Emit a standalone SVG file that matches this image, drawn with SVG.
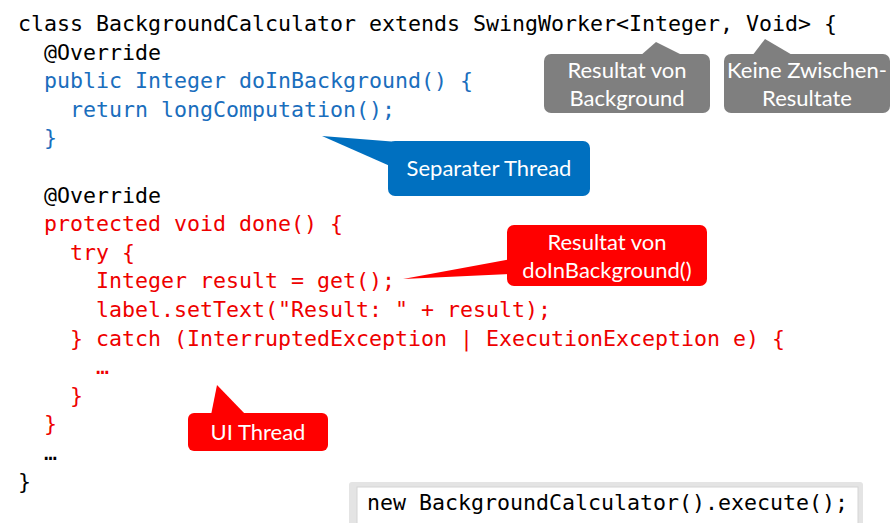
<svg xmlns="http://www.w3.org/2000/svg" width="893" height="523" viewBox="0 0 893 523">
  <style>
    .code { font-family: "DejaVu Sans Mono", "Liberation Mono", monospace; font-size: 21.6px; }
    .k { fill: #000000; }
    .b { fill: #1A6EBD; }
    .r { fill: #EE0000; }
    .lbl { font-family: Lato, "Liberation Sans", sans-serif; font-size: 22px; fill: #ffffff; text-anchor: middle; }
    .gray { fill: #7F7F7F; }
    .blue { fill: #0070C0; }
    .red { fill: #FF0000; }
  </style>
  <rect width="893" height="523" fill="#ffffff"/>

  <g id="code">
    <text class="code k" x="18" y="31">class BackgroundCalculator extends SwingWorker&lt;Integer, Void&gt; {</text>
    <text class="code k" x="44" y="59.6">@Override</text>
    <text class="code b" x="44" y="88.2">public Integer doInBackground() {</text>
    <text class="code b" x="70" y="116.8">return longComputation();</text>
    <text class="code b" x="44" y="145.4">}</text>
    <text class="code k" x="44" y="202.6">@Override</text>
    <text class="code r" x="44" y="231.2">protected void done() {</text>
    <text class="code r" x="70" y="259.8">try {</text>
    <text class="code r" x="96" y="288.4">Integer result = get();</text>
    <text class="code r" x="96" y="317">label.setText("Result: " + result);</text>
    <text class="code r" x="70" y="345.6">} catch (InterruptedException | ExecutionException e) {</text>
    <text class="code r" x="96" y="374.2">…</text>
    <text class="code r" x="70" y="402.8">}</text>
    <text class="code r" x="44" y="431.4">}</text>
    <text class="code k" x="44" y="460">…</text>
    <text class="code k" x="18" y="488.6">}</text>
  </g>

  <g id="connectors">
    <polygon class="gray" points="656,42 640,56 684,56"/>
    <polygon class="gray" points="765,39 752,56 794,56"/>
    <polygon class="blue" points="322,136 398,142 390,166"/>
    <polygon class="red" points="403,279 512,259 512,274"/>
    <polygon class="red" points="217,385 211,415 246,415"/>
  </g>

  <g id="callout-integer">
    <rect class="gray" x="544" y="54" width="166" height="59" rx="7"/>
    <text class="lbl" x="627" y="78">Resultat von</text>
    <text class="lbl" x="627" y="106">Background</text>
  </g>

  <g id="callout-void">
    <rect class="gray" x="724" y="54" width="166" height="59" rx="7"/>
    <text class="lbl" x="807" y="78">Keine Zwischen-</text>
    <text class="lbl" x="807" y="106">Resultate</text>
  </g>

  <g id="callout-separate-thread">
    <rect class="blue" x="388" y="141" width="202" height="55" rx="7"/>
    <text class="lbl" x="489" y="176">Separater Thread</text>
  </g>

  <g id="callout-result">
    <rect class="red" x="507" y="225" width="200" height="61" rx="7"/>
    <text class="lbl" x="607" y="250">Resultat von</text>
    <text class="lbl" x="607" y="278">doInBackground()</text>
  </g>

  <g id="callout-ui-thread">
    <rect class="red" x="188" y="413" width="140" height="38" rx="6"/>
    <text class="lbl" x="258" y="440">UI Thread</text>
  </g>

  <g id="execute-box">
    <rect x="349" y="482" width="514" height="50" rx="3" fill="#E4E4E4"/>
    <rect x="357" y="487" width="501" height="45" fill="#ffffff" stroke="#D4D4D4" stroke-width="1"/>
    <text class="code k" x="367" y="510">new BackgroundCalculator().execute();</text>
  </g>
</svg>
